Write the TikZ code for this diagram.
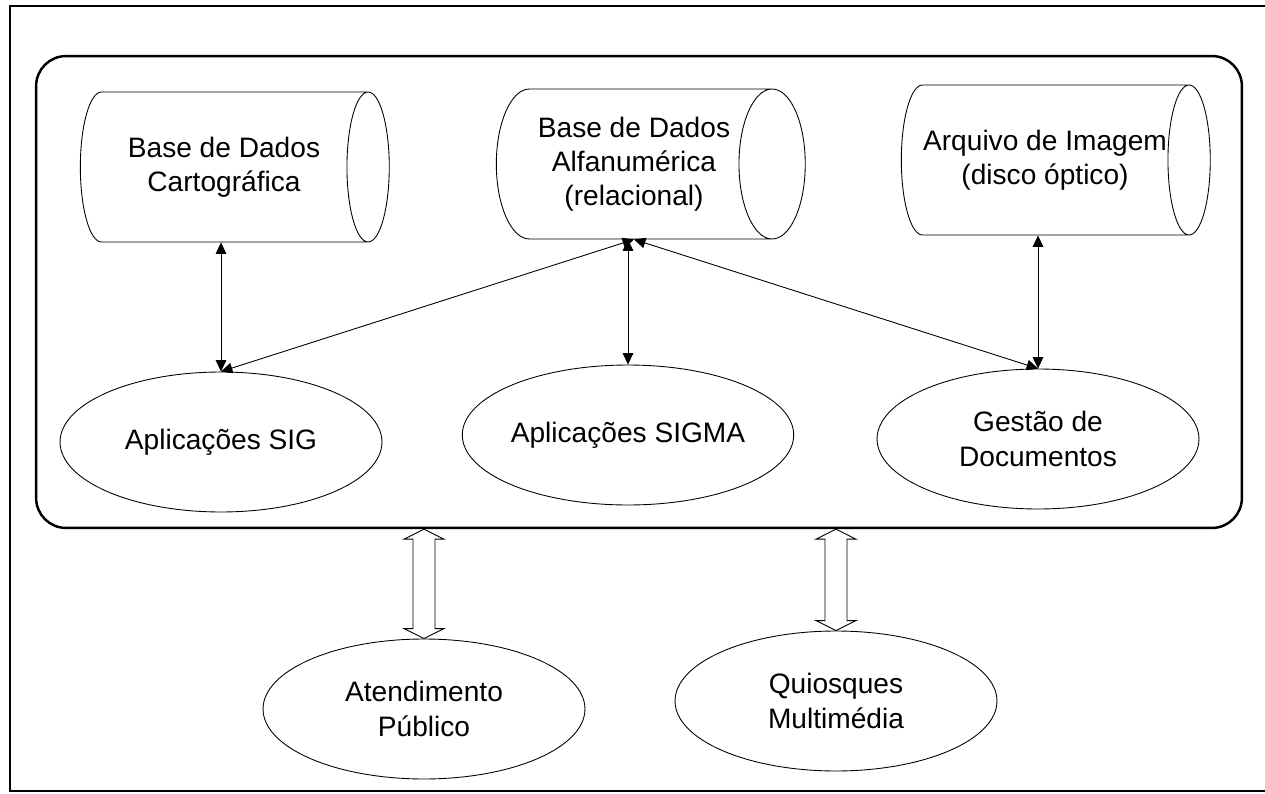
\documentclass[tikz,border=0pt]{standalone}
\usepackage{fontspec}
\setmainfont{Liberation Sans}
\usetikzlibrary{shapes.geometric,arrows.meta,calc}

\begin{document}
\begin{tikzpicture}[x=0.02cm,y=-0.02cm,
    every node/.style={font=\fontsize{16pt}{19.5pt}\selectfont,align=center},
    base/.style={shape=cylinder,draw=black,line width=0.5pt,shape aspect=0.7,minimum width=3cm,minimum height=6.18cm,inner sep=0pt},
    app/.style={shape=ellipse,draw=black,line width=0.5pt,minimum width=6.44cm,minimum height=2.8cm,inner sep=0pt},
    link/.style={{Triangle[length=6.5pt,width=6pt]}-{Triangle[length=6.5pt,width=6pt]},line width=0.5pt},
    hollow/.style={draw=black,line width=0.5pt,fill=white},
    frame/.style={draw=black,line width=1.4pt}]
    \useasboundingbox (0,0) rectangle (1265,794);
    \draw[frame] (1270,6) -| (10,791) -- (1270,791);
    \node[frame,rounded corners=0.6cm,minimum width=24.12cm,minimum height=9.44cm] (sis) at (639,292){};
    \node[base] (cbd) at (224,167){Base de Dados\\Cartográfica};
    \node[base] (alf) at (634,164){Base de Dados\\Alfanumérica\\(relacional)};
    \node[base] (img) at (1045,160){Arquivo de Imagem\\(disco óptico)};
    \node[app] (sig) at (221,442){Aplicações SIG};
    \node[app] (sgm) at (628,435){Aplicações SIGMA};
    \node[app] (doc) at (1038,439){Gestão de\\Documentos};
    \node[app] (atp) at (424,709){Atendimento\\Público};
    \node[app] (qsq) at (836,701){Quiosques\\Multimédia};
    \draw[link] (sig.north |- cbd.south) -- (sig.north);
    \draw[link] (sgm.north |- alf.south) -- (sgm.north);
    \draw[link] (alf.south) -- (sig.north);
    \draw[link] (alf.south) -- (doc.north);
    \draw[link] (doc.north |- img.south) -- (doc.north);
    \coordinate (t1) at (sis.south -| atp.north);
    \coordinate (t2) at (sis.south -| qsq.north);
    \draw[hollow] (t1) -- ++(-20,10) -- ++(9,0) -- ($(atp.north)+(-11,-10)$) -- ++(-9,0) -- (atp.north) -- ++(20,-10) -- ++(-9,0) -- ($(t1)+(11,10)$) -- ++(9,0) -- cycle;
    \draw[hollow] (t2) -- ++(-20,10) -- ++(9,0) -- ($(qsq.north)+(-11,-10)$) -- ++(-9,0) -- (qsq.north) -- ++(20,-10) -- ++(-9,0) -- ($(t2)+(11,10)$) -- ++(9,0) -- cycle;
\end{tikzpicture}
\end{document}
